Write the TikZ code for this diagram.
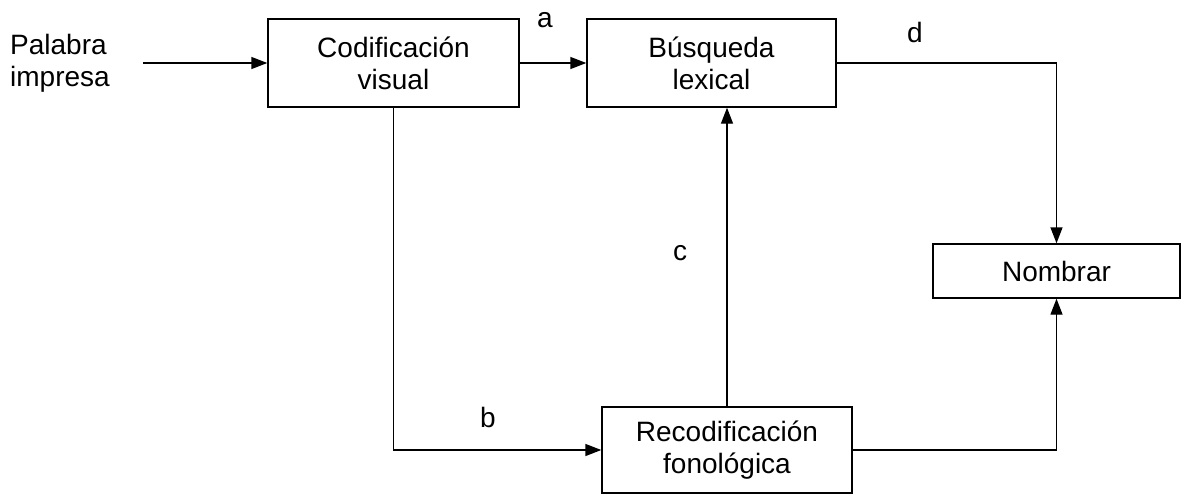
\documentclass[tikz,border=0pt]{standalone}
\usepackage{fontspec}
\setmainfont{Liberation Sans}
\usetikzlibrary{positioning,arrows.meta}

\tikzset{
  blk/.style={draw, line width=1.4pt, minimum height=88pt, align=center, inner sep=0pt},
  lbl/.style={inner sep=0pt},
  flow/.style={-{Triangle[length=16pt,width=12pt]}, line width=1.4pt}
}

\begin{document}
\begin{tikzpicture}[x=1pt, y=-1pt, font=\fontsize{28}{32}\selectfont]
\useasboundingbox (0,0) rectangle (1182,495);

\node(pal) [lbl, align=left, anchor=west] at (10,63) {Palabra\\impresa};

\begin{scope}[on grid, node distance=318pt]
\node(cod) [blk, minimum width=251pt] at (393.5,63) {Codificación\\visual};
\node(bus) [blk, minimum width=249pt, right=of cod] {Búsqueda\\lexical};
\end{scope}

\node(rec) [blk, minimum width=250pt, minimum height=86pt] at (727,450) {Recodificación\\fonológica};
\node(nom) [blk, minimum width=247pt, minimum height=54pt] at (1056.5,271) {Nombrar};

\node(la) [lbl] at (545,20) {a};
\node(lb) [lbl] at (488,417) {b};
\node(lc) [lbl] at (680,253) {c};
\node(ld) [lbl] at (915,32) {d};

\draw[flow] ([xshift=33pt]pal.east) -- (cod);
\draw[flow] (cod) -- (bus);
\draw[flow] (cod.south) |- (rec.west);
\draw[flow] (rec.north) -- (rec.north |- bus.south);
\draw[flow] (bus.east) -| (nom.north);
\draw[flow] (rec.east) -| (nom.south);

\end{tikzpicture}
\end{document}
